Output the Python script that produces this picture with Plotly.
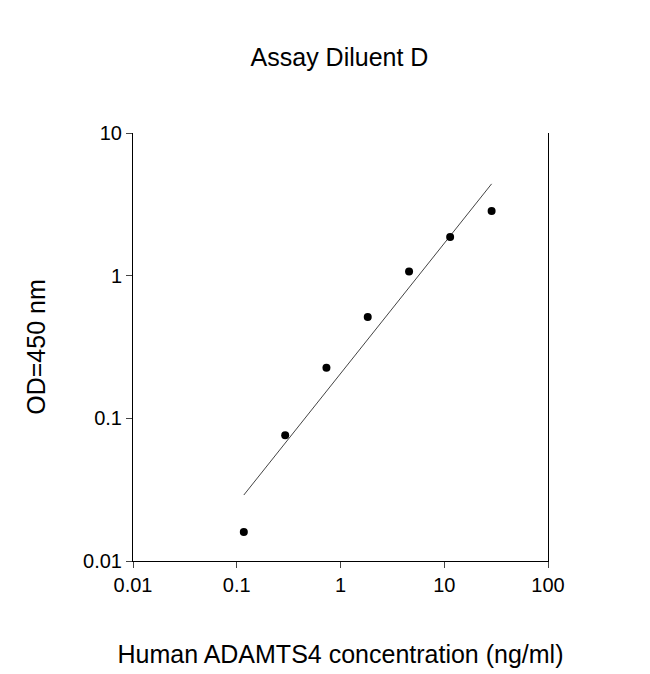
import plotly.graph_objects as go

conc = [0.117, 0.293, 0.732, 1.83, 4.58, 11.4, 28.6]
od = [0.016, 0.076, 0.226, 0.514, 1.07, 1.87, 2.84]
fit_x = [0.117, 28.6]
fit_y = [0.029, 4.4]

fig = go.Figure()
fig.add_trace(go.Scatter(x=fit_x, y=fit_y, mode="lines", line=dict(color="#444", width=1)))
fig.add_trace(go.Scatter(x=conc, y=od, mode="markers", marker=dict(color="black", size=8)))
fnt = dict(family="Liberation Sans, Arial", color="black")
fig.update_layout(
    width=650, height=674, showlegend=False,
    paper_bgcolor="white", plot_bgcolor="white",
    margin=dict(l=125, r=110, t=125, b=121),
    font=dict(size=20, **fnt),
    title=dict(text="Assay Diluent D", x=0.51, xanchor="center", y=0.94, font=dict(size=25, **fnt)),
    xaxis=dict(type="log", range=[-2, 2], tickvals=[0.01, 0.1, 1, 10, 100],
               ticktext=["0.01", "0.1", "1", "10", "100"], ticks="outside", ticklen=6,
               showline=True, linecolor="black", showgrid=False, zeroline=False,
               title=dict(text="Human ADAMTS4 concentration (ng/ml)", font=dict(size=25, **fnt), standoff=50)),
    yaxis=dict(type="log", range=[-2, 1], tickvals=[0.01, 0.1, 1, 10],
               ticktext=["0.01", "0.1", "1", "10"], ticks="outside", ticklen=6,
               showline=True, linecolor="black", mirror=True, showgrid=False, zeroline=False,
               title=dict(text="OD=450 nm", font=dict(size=25, **fnt), standoff=30)),
)
fig.write_html("out.html")
